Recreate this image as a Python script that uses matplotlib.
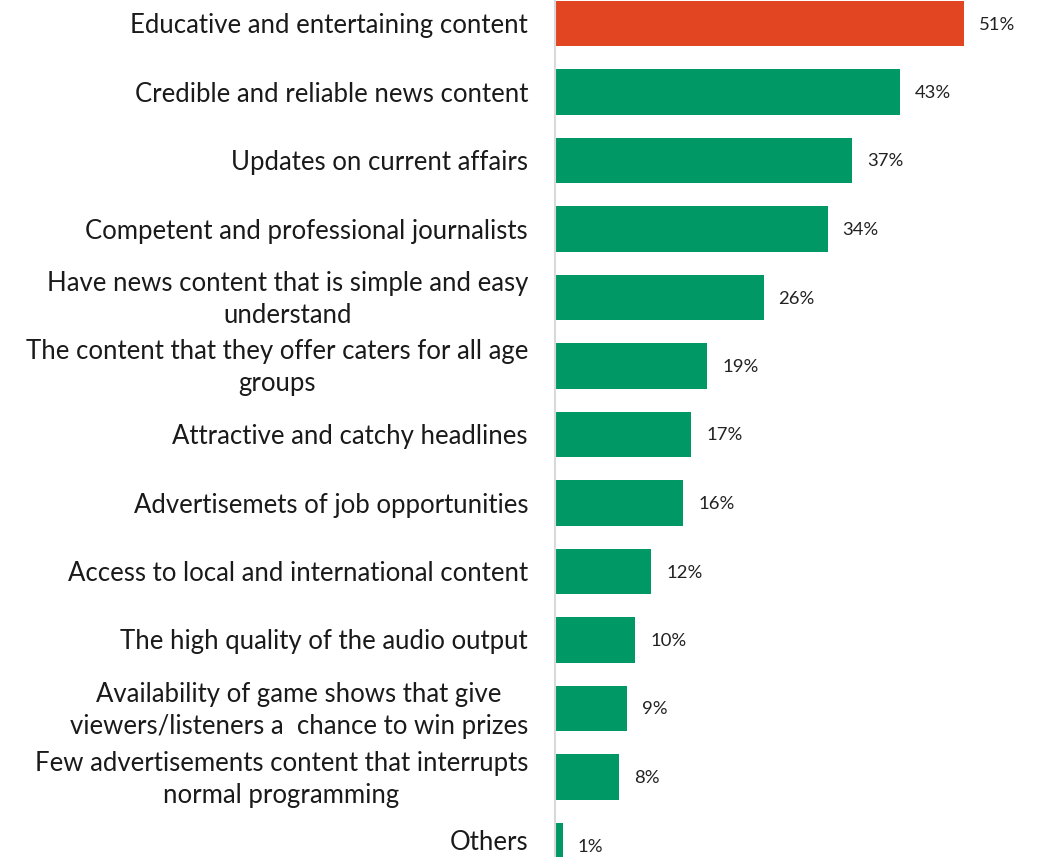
import matplotlib.pyplot as plt

categories = [
    "Educative and entertaining content",
    "Credible and reliable news content",
    "Updates on current affairs",
    "Competent and professional journalists",
    "Have news content that is simple and easy\nunderstand",
    "The content that they offer caters for all age\ngroups",
    "Attractive and catchy headlines",
    "Advertisemets of job opportunities",
    "Access to local and international content",
    "The high quality of the audio output",
    "Availability of game shows that give\nviewers/listeners a  chance to win prizes",
    "Few advertisements content that interrupts\nnormal programming",
    "Others",
]
values = [51, 43, 37, 34, 26, 19, 17, 16, 12, 10, 9, 8, 1]

highlight = "#E24522"
green = "#009966"
colors = [highlight] + [green] * (len(values) - 1)

plt.rcParams["font.family"] = ["Lato", "DejaVu Sans"]

fig = plt.figure(figsize=(10.38, 8.57), dpi=100)
ax = fig.add_axes([555 / 1038, 0, 1 - 555 / 1038, 1])

pos = list(range(len(values)))
ax.barh(pos, values, height=0.66, color=colors)

for p, v in zip(pos, values):
    ax.annotate(f"{v}%", xy=(v, p), xytext=(15, -1), textcoords="offset pixels",
                ha="left", va="center", fontsize=13.3, color="#222222")

# category labels sit left of the axis, centred between lines;
# the last one is nudged up so it stays inside the figure edge
last = len(categories) - 1
for p, c in zip(pos, categories):
    dy = 3 if p == last else -2
    ax.annotate(c, xy=(0, p), xytext=(-27, dy), textcoords="offset pixels",
                ha="right", va="center", multialignment="center",
                linespacing=1.35, fontsize=18.5, color="#1a1a1a",
                annotation_clip=False)

ax.set_xlim(0, (1038 - 555) / 8.02)
ax.set_ylim((857 - 23.5) / 68.5, -23.5 / 68.5)
ax.set_xticks([])
ax.set_yticks([])
for s in ["top", "right", "bottom"]:
    ax.spines[s].set_visible(False)
ax.spines["left"].set_color("#d9d9d9")
ax.spines["left"].set_linewidth(1.5)

fig.savefig("out.png", dpi=100)
